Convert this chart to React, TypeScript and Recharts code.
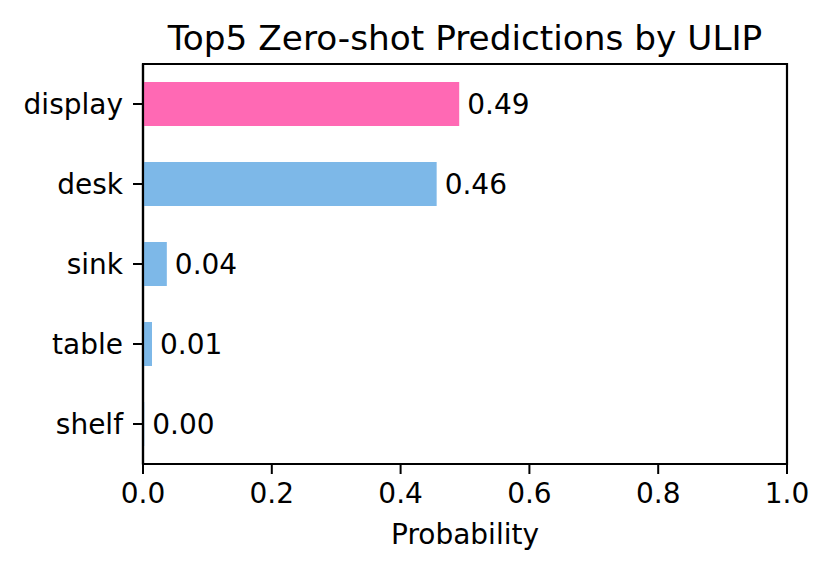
import React from "react";
import { BarChart, Bar, XAxis, YAxis, Cell, LabelList, ReferenceArea } from "recharts";

const labels = ["display", "desk", "sink", "table", "shelf"];
const probs = [0.491, 0.456, 0.037, 0.014, 0.002];
const barColors = ["#FF69B4", "#7DB8E8", "#7DB8E8", "#7DB8E8", "#7DB8E8"];
const xTicks = [0, 0.2, 0.4, 0.6, 0.8, 1.0];

const FONT = "DejaVu Sans";

export default function App() {
  const data = labels.map((label, i) => ({ label, prob: probs[i] }));

  return (
    <div style={{ position: "absolute", left: 0, top: 0, width: 831, height: 572, background: "#fff", fontFamily: FONT }}>
      <div
        style={{
          position: "absolute",
          left: 143,
          width: 644,
          top: 21,
          textAlign: "center",
          fontSize: 34.3,
          lineHeight: "34px",
          color: "#000",
          whiteSpace: "nowrap",
        }}
      >
        Top5 Zero-shot Predictions by ULIP
      </div>
      <BarChart
        width={831}
        height={572}
        data={data}
        layout="vertical"
        margin={{ top: 64, right: 44, left: 0, bottom: 0 }}
      >
        <XAxis
          type="number"
          domain={[0, 1]}
          ticks={xTicks}
          tickFormatter={(v: number) => v.toFixed(1)}
          height={108}
          tickSize={10}
          tickMargin={9}
          axisLine={{ stroke: "#000", strokeWidth: 2.2 }}
          tickLine={{ stroke: "#000", strokeWidth: 2 }}
          tick={{ fill: "#000", fontSize: 28, fontFamily: FONT }}
          label={{ value: "Probability", position: "insideBottom", offset: 28, fill: "#000", fontSize: 28, fontFamily: FONT }}
        />
        <YAxis
          type="category"
          dataKey="label"
          width={143}
          tickSize={10}
          tickMargin={10}
          axisLine={{ stroke: "#000", strokeWidth: 2.2 }}
          tickLine={{ stroke: "#000", strokeWidth: 2 }}
          tick={{ fill: "#000", fontSize: 28, fontFamily: FONT }}
        />
        <ReferenceArea x1={0} x2={1} fill="none" stroke="#000" strokeWidth={2.2} />
        <Bar dataKey="prob" barSize={44} isAnimationActive={false}>
          {data.map((d, i) => (
            <Cell key={d.label} fill={barColors[i]} />
          ))}
          <LabelList
            dataKey="prob"
            position="right"
            offset={8}
            formatter={(v: number) => v.toFixed(2)}
            fill="#000"
            fontSize={28}
            fontFamily={FONT}
          />
        </Bar>
      </BarChart>
    </div>
  );
}
